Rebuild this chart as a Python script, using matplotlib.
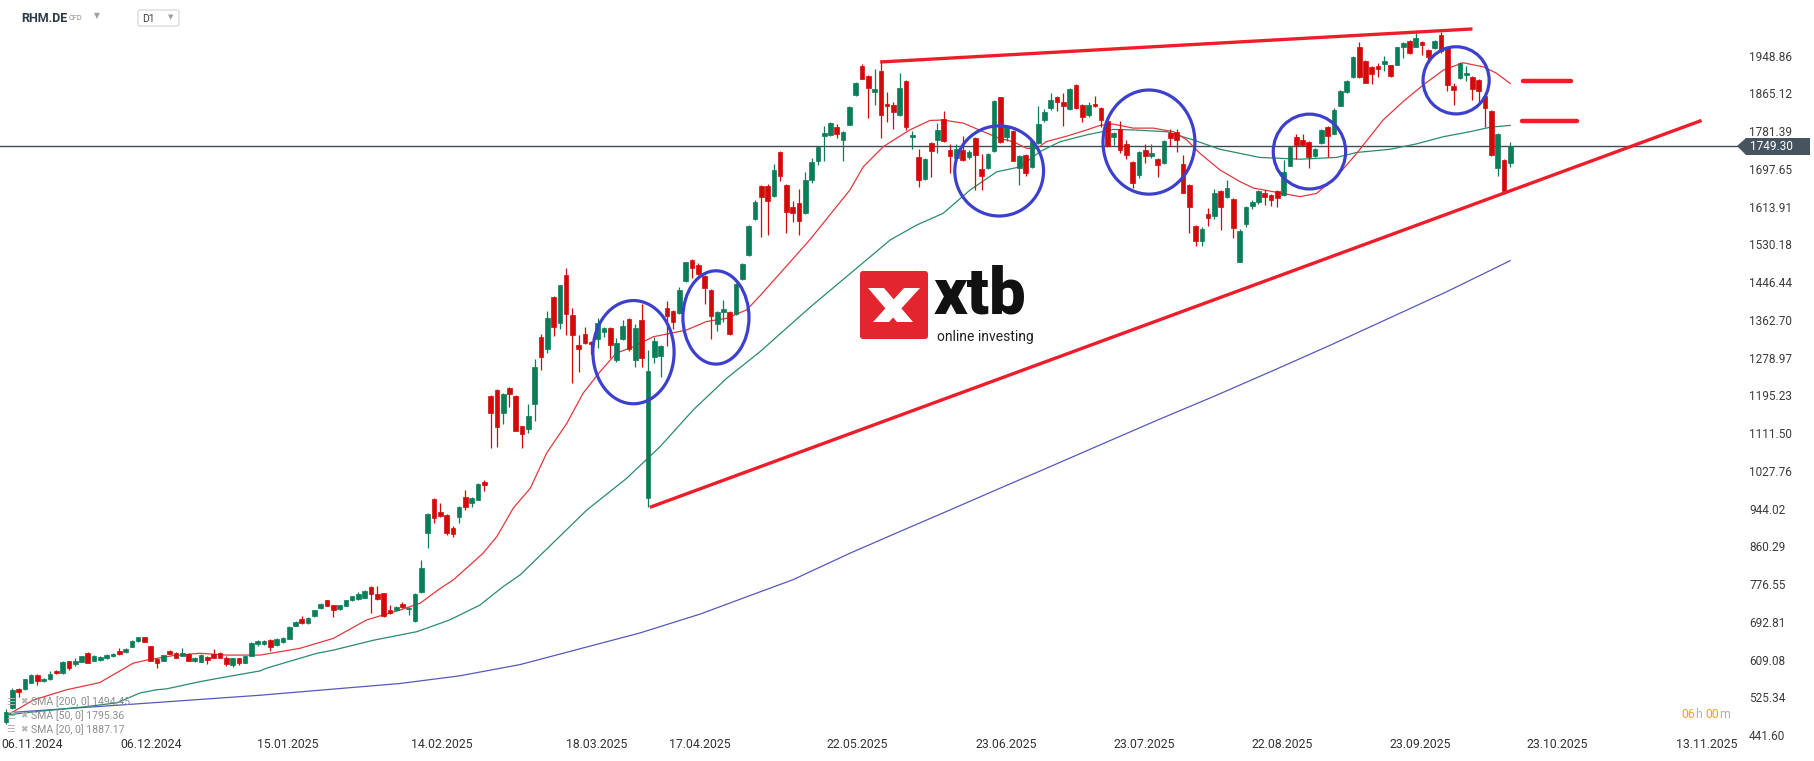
import numpy as np
import matplotlib.pyplot as plt
from matplotlib.patches import Ellipse, Polygon, FancyBboxPatch

plt.rcParams['font.family'] = ['Roboto', 'DejaVu Sans']

# ---- daily candles RHM.DE ----
open_ = [
    470, 501, 544, 544, 558, 574, 561, 565, 584, 579,
    606, 599, 604, 624, 607, 609, 613, 616, 628, 625,
    638, 650, 659, 639, 610, 607, 628, 624, 618, 621,
    606, 604, 615, 621, 624, 613, 597, 612, 602, 618,
    644, 644, 653, 642, 648, 655, 684, 699, 690, 706,
    724, 741, 730, 721, 729, 741, 743, 746, 771, 755,
    756, 719, 719, 733, 721, 695, 759,
    890, 965, 936, 930, 901, 926, 970, 957, 964, 1003,
    1194, 1207, 1155, 1212, 1194, 1127, 1121, 1175, 1325, 1299,
    1413, 1356, 1462, 1373, 1306, 1331, 1313, 1320, 1336, 1345,
    1274, 1321, 1365, 1274, 1362, 968, 1281, 1283, 1388, 1382,
    1377, 1449, 1495, 1485, 1460, 1429, 1353, 1381, 1380, 1376,
    1454, 1506, 1587, 1660, 1660, 1638, 1735, 1662, 1613, 1622,
    1600, 1674, 1716, 1771, 1773, 1790, 1762, 1796, 1861, 1926,
    1904, 1868, 1915, 1842, 1839, 1818, 1893, 1768, 1723, 1675,
    1754, 1762, 1808, 1739, 1722, 1739, 1725, 1766, 1698, 1700,
    1738, 1856, 1768, 1782, 1700, 1728, 1702, 1754, 1806, 1832,
    1858, 1846, 1830, 1884, 1839, 1816, 1842, 1833, 1804, 1768,
    1785, 1753, 1713, 1685, 1739, 1726, 1720, 1711, 1778, 1779,
    1708, 1662, 1571, 1538, 1598, 1592, 1649, 1636, 1631, 1492,
    1575, 1616, 1623, 1644, 1640, 1649, 1640, 1705, 1768, 1762,
    1757, 1726, 1754, 1790, 1776, 1838, 1869, 1901, 1968, 1936,
    1923, 1926, 1931, 1927, 1929, 1969, 1981, 1969, 1979, 1961,
    1965, 1995, 1967, 1881, 1899, 1905, 1901, 1895, 1859, 1826,
    1700, 1717, 1711,
]
high = [
    500, 545, 546, 567, 578, 576, 569, 584, 586, 606,
    607, 612, 618, 625, 619, 616, 621, 623, 635, 634,
    652, 660, 660, 640, 612, 620, 631, 625, 635, 623,
    615, 621, 616, 633, 625, 617, 613, 613, 618, 648,
    652, 652, 654, 656, 660, 683, 695, 705, 703, 719,
    734, 742, 731, 731, 742, 750, 760, 763, 772, 772,
    757, 730, 728, 736, 726, 756, 830,
    934, 967, 956, 931, 905, 949, 985, 969, 1000, 1008,
    1196, 1209, 1200, 1213, 1195, 1128, 1177, 1275, 1331, 1382,
    1415, 1441, 1478, 1388, 1328, 1346, 1315, 1366, 1347, 1347,
    1322, 1362, 1366, 1353, 1398, 1296, 1324, 1306, 1405, 1384,
    1435, 1492, 1497, 1489, 1462, 1431, 1382, 1407, 1382, 1444,
    1489, 1572, 1628, 1662, 1665, 1708, 1737, 1664, 1627, 1652,
    1691, 1721, 1749, 1793, 1801, 1797, 1782, 1836, 1890, 1930,
    1906, 1919, 1939, 1868, 1845, 1910, 1895, 1781, 1741, 1722,
    1757, 1799, 1825, 1752, 1752, 1770, 1740, 1768, 1731, 1733,
    1850, 1858, 1795, 1784, 1728, 1731, 1761, 1837, 1830, 1866,
    1860, 1866, 1877, 1885, 1841, 1845, 1859, 1835, 1806, 1780,
    1804, 1762, 1715, 1737, 1753, 1753, 1722, 1761, 1787, 1785,
    1728, 1664, 1573, 1569, 1610, 1652, 1651, 1673, 1633, 1564,
    1615, 1629, 1651, 1650, 1642, 1651, 1717, 1749, 1776, 1776,
    1759, 1744, 1786, 1792, 1833, 1872, 1895, 1948, 1978, 1938,
    1925, 1932, 1948, 1929, 1969, 1978, 1983, 1998, 1981, 1963,
    1983, 2001, 1969, 1889, 1935, 1926, 1903, 1897, 1861, 1828,
    1777, 1719, 1757,
]
low = [
    466, 499, 526, 542, 556, 553, 559, 563, 577, 578,
    586, 594, 603, 601, 605, 607, 611, 615, 620, 624,
    637, 647, 648, 606, 591, 606, 621, 612, 617, 606,
    604, 603, 599, 612, 612, 595, 593, 596, 601, 617,
    640, 642, 629, 640, 646, 654, 683, 688, 688, 703,
    722, 727, 703, 719, 727, 740, 742, 745, 713, 741,
    704, 710, 717, 724, 708, 693, 757,
    857, 913, 926, 886, 881, 912, 940, 948, 962, 982,
    1079, 1081, 1132, 1170, 1115, 1079, 1111, 1139, 1251, 1290,
    1327, 1342, 1328, 1223, 1248, 1308, 1287, 1300, 1325, 1277,
    1270, 1318, 1294, 1259, 1259, 948, 1266, 1237, 1305, 1342,
    1375, 1447, 1455, 1463, 1398, 1321, 1338, 1359, 1330, 1374,
    1452, 1504, 1585, 1547, 1551, 1636, 1671, 1556, 1580, 1551,
    1598, 1666, 1706, 1714, 1771, 1765, 1714, 1794, 1859, 1896,
    1810, 1839, 1765, 1801, 1787, 1815, 1784, 1742, 1658, 1673,
    1680, 1732, 1758, 1688, 1720, 1715, 1720, 1651, 1650, 1698,
    1736, 1756, 1760, 1714, 1662, 1682, 1700, 1752, 1802, 1828,
    1825, 1793, 1828, 1830, 1802, 1813, 1834, 1791, 1746, 1750,
    1732, 1719, 1656, 1677, 1710, 1722, 1680, 1709, 1748, 1736,
    1643, 1555, 1527, 1527, 1571, 1586, 1562, 1634, 1544, 1490,
    1569, 1609, 1620, 1618, 1615, 1612, 1638, 1703, 1719, 1748,
    1700, 1724, 1752, 1723, 1774, 1836, 1867, 1899, 1899, 1887,
    1885, 1902, 1915, 1902, 1927, 1943, 1953, 1967, 1951, 1932,
    1963, 1955, 1870, 1840, 1897, 1893, 1850, 1847, 1791, 1727,
    1682, 1647, 1702,
]
close = [
    493, 541, 538, 566, 575, 562, 567, 577, 579, 604,
    590, 607, 616, 602, 617, 614, 619, 621, 622, 633,
    650, 659, 649, 607, 602, 619, 622, 613, 624, 607,
    613, 620, 608, 613, 613, 599, 612, 602, 616, 646,
    650, 650, 638, 655, 657, 682, 693, 690, 701, 718,
    733, 729, 719, 730, 741, 749, 755, 762, 755, 743,
    706, 712, 726, 726, 724, 755, 812,
    932, 923, 928, 890, 888, 948, 948, 968, 999, 996,
    1155, 1126, 1198, 1199, 1117, 1110, 1149, 1257, 1281, 1367,
    1347, 1439, 1376, 1329, 1297, 1311, 1308, 1355, 1345, 1306,
    1311, 1349, 1298, 1345, 1277, 1249, 1316, 1305, 1372, 1358,
    1429, 1490, 1478, 1465, 1433, 1372, 1380, 1387, 1332, 1442,
    1487, 1570, 1625, 1636, 1627, 1695, 1682, 1603, 1600, 1583,
    1673, 1713, 1747, 1777, 1799, 1774, 1780, 1834, 1888, 1898,
    1878, 1875, 1818, 1836, 1824, 1877, 1791, 1772, 1674, 1720,
    1738, 1784, 1760, 1726, 1742, 1717, 1735, 1728, 1682, 1731,
    1848, 1758, 1793, 1716, 1726, 1689, 1759, 1797, 1824, 1850,
    1847, 1837, 1875, 1832, 1813, 1839, 1836, 1807, 1748, 1777,
    1739, 1729, 1667, 1735, 1726, 1733, 1707, 1759, 1765, 1762,
    1645, 1614, 1538, 1564, 1589, 1644, 1612, 1655, 1567, 1560,
    1613, 1623, 1649, 1636, 1629, 1632, 1691, 1747, 1751, 1750,
    1725, 1742, 1784, 1771, 1828, 1870, 1893, 1946, 1901, 1889,
    1907, 1920, 1937, 1904, 1967, 1976, 1955, 1987, 1973, 1945,
    1981, 1958, 1884, 1873, 1933, 1910, 1875, 1870, 1833, 1729,
    1775, 1649, 1749.30,
]

# moving averages (bar index, price), read at sample points
sma20_x = [0, 4.3, 9.6, 14.9, 20.2, 22.4, 26.6, 30.8, 35.1, 40.4, 46.7, 52, 57.3, 62.6,
           65.8, 69, 71.1, 75.8, 78, 80.6, 83.3, 85.9, 89.1, 91.7, 94.4, 97, 99.7, 102.8,
           106, 108.1, 111.3, 114.5, 117.7, 119.8, 127.7, 134.1, 136.2, 139.4, 143.6,
           146.8, 148.9, 152.1, 155.3, 157.9, 160, 162.2, 163.8, 165.3, 168.5, 171.7,
           173.8, 175.9, 179.1, 182.3, 185.5, 187.6, 189.7, 192.9, 196.1, 198.2, 202.9,
           205.6, 208.2, 211.4, 214.6, 218.8, 222, 225.2, 228.4, 231.5, 234.7, 236.8, 239]
sma20_y = [484, 519, 542, 558, 601, 608, 618, 623, 619, 619, 634, 656, 697, 719, 734, 767,
           786, 845, 882, 945, 989, 1067, 1133, 1200, 1248, 1289, 1303, 1325, 1334, 1340,
           1359, 1366, 1385, 1416, 1540, 1651, 1702, 1747, 1784, 1805, 1806, 1799, 1780,
           1765, 1758, 1743, 1743, 1758, 1770, 1784, 1794, 1797, 1788, 1788, 1780, 1762,
           1732, 1695, 1669, 1655, 1643, 1636, 1643, 1680, 1732, 1806, 1847, 1884, 1917,
           1933, 1924, 1910, 1887]
sma50_x = [0, 4.3, 12.3, 17.6, 21.3, 23.9, 25.5, 30.8, 33.5, 40.4, 41.4, 49.4, 52, 58.4,
           65.3, 70.5, 75.3, 79, 81.7, 92.3, 98.6, 103.9, 109.2, 114.5, 119.8, 127.7,
           134.1, 140.5, 144.7, 148.9, 153.2, 157.4, 161.1, 164.3, 167.5, 171.7, 175.9,
           179.1, 184.4, 188.6, 192.9, 199.2, 205.6, 211.4, 214.6, 219.9, 224.1, 228.4,
           232.6, 235.8, 239]
sma50_y = [486, 493, 504, 513, 535, 542, 544, 560, 567, 584, 590, 623, 630, 652, 671, 697,
           730, 771, 797, 941, 1011, 1081, 1163, 1233, 1292, 1390, 1465, 1540, 1573, 1599,
           1651, 1691, 1702, 1736, 1758, 1773, 1785, 1784, 1780, 1762, 1741, 1723, 1719,
           1723, 1734, 1741, 1753, 1769, 1780, 1790, 1794]
sma200_x = [0, 20, 40.4, 62.6, 72.1, 81.7, 91.2, 100.7, 110.3, 118.2, 125, 134.1, 142, 150,
            157.9, 165.9, 173.8, 182.9, 192.1, 201.3, 210.5, 219.7, 228.9, 239]
sma200_y = [491, 510, 530, 556, 573, 598, 633, 668, 710, 751, 786, 845, 893, 941, 989, 1037,
            1085, 1140, 1194, 1250, 1307, 1366, 1425, 1494]

legend_rows = ["SMA [200, 0] 1494.45", "SMA [50, 0] 1795.36", "SMA [20, 0] 1887.17"]
last_price = 1749.30

price_labels = ["441.60", "525.34", "609.08", "692.81", "776.55", "860.29", "944.02",
                "1027.76", "1111.50", "1195.23", "1278.97", "1362.70", "1446.44",
                "1530.18", "1613.91", "1697.65", "1781.39", "1865.12", "1948.86"]
date_labels = ["06.11.2024", "06.12.2024", "15.01.2025", "14.02.2025", "18.03.2025",
               "17.04.2025", "22.05.2025", "23.06.2025", "23.07.2025", "22.08.2025",
               "23.09.2025", "23.10.2025", "13.11.2025"]
date_pos = [4.2, 23.0, 44.7, 69.3, 93.8, 110.3, 135.3, 158.9, 180.9, 202.8, 224.7,
            246.4, 270.3]

# drawn annotations (bar index, price)
support_line = ([102.3, 269.4], [946.8, 1805])
resist_line = ([138.9, 233.0], [1934.7, 2008])
level_marks = [([241.1, 248.6], 1892), ([240.9, 249.6], 1804)]
circles = [(99.7, 1291, 12.9, 229), (112.8, 1368, 10.5, 207), (157.8, 1693, 14.1, 200),
           (181.6, 1757, 14.6, 231), (207.1, 1736, 11.5, 166), (230.4, 1894, 10.5, 149)]

GREEN = "#0a7e58"
RED = "#d20a0a"
W, H = 1815, 761

fig = plt.figure(figsize=(W / 100, H / 100), dpi=100)
ax = fig.add_axes([0, 24 / H, 1745 / W, 1 - 24 / H])
ax.set_xlim(-0.95, 276.3)
ax.set_ylim(437.3, 2072.2)

o = np.array(open_, float)
c = np.array(close, float)
x = np.arange(len(c))
cols = np.where(c >= o, GREEN, RED)

ax.axhline(last_price, color="#3e4c59", lw=1.0, zorder=2)
ax.plot(sma200_x, sma200_y, color="#5659b9", lw=0.9, zorder=2)
ax.plot(sma50_x, sma50_y, color="#2a8c68", lw=0.9, zorder=2)
ax.plot(sma20_x, sma20_y, color="#e2383d", lw=0.9, zorder=2)

ax.vlines(x, low, high, colors=cols, lw=0.9, zorder=3)
ax.bar(x, np.abs(c - o), bottom=np.minimum(o, c), width=0.74, color=cols,
       edgecolor=cols, lw=0.5, zorder=4)

ax.plot(*support_line, color="#ee1d2a", lw=2.4, zorder=5, solid_capstyle="butt")
ax.plot(*resist_line, color="#ee1d2a", lw=2.4, zorder=5, solid_capstyle="butt")
for xs, lvl in level_marks:
    ax.plot(xs, [lvl, lvl], color="#ee1d2a", lw=3.2, zorder=5, solid_capstyle="round")
for cx, cy, w, h in circles:
    ax.add_patch(Ellipse((cx, cy), w, h, fill=False, ec="#3d40cc", lw=2.3, zorder=6))

ax.yaxis.tick_right()
ax.set_yticks([float(v) for v in price_labels])
ax.set_yticklabels(price_labels)
ax.set_xticks(date_pos)
ax.set_xticklabels(date_labels)
ax.tick_params(axis="y", length=0, pad=3, labelsize=8.5, labelcolor="#3b3b3b")
ax.tick_params(axis="x", length=0, pad=0.5, labelsize=8.8, labelcolor="#333333")
for s in ax.spines.values():
    s.set_visible(False)

# ---- overlay in pixel coordinates for the platform furniture ----
ov = fig.add_axes([0, 0, 1, 1], zorder=5)
ov.set_xlim(0, W)
ov.set_ylim(H, 0)
ov.axis("off")

ov.text(21, 18, "RHM.DE", fontsize=9, fontweight="bold", color="#2d3b48", va="center")
ov.text(69, 18.5, "CFD", fontsize=5.3, color="#8b8b8b", va="center")
ov.text(97, 16, "\u25bc", fontsize=5.5, color="#a0a0a0", va="center", ha="center",
        family="DejaVu Sans")
ov.add_patch(FancyBboxPatch((138, 10), 41, 16, boxstyle="round,pad=0,rounding_size=2",
                            fc="white", ec="#d3d3d3", lw=0.8))
ov.text(142, 18.5, "D1", fontsize=7.5, color="#444444", va="center")
ov.text(171, 17.5, "\u25bc", fontsize=5, color="#a0a0a0", va="center", ha="center",
        family="DejaVu Sans")

# last price tag
ov.add_patch(Polygon([(1737, 146), (1746, 138), (1810, 138), (1810, 155), (1746, 155)],
                     closed=True, fc="#46545f", ec="none"))
ov.text(1750, 146.8, f"{last_price:.2f}", fontsize=8.5, color="white", va="center")

# indicator legend
for i, row in enumerate(legend_rows):
    yy = 702 + i * 13.7
    ov.text(6, yy, "\u2630", fontsize=7, color="#b5b5b5", va="center", family="DejaVu Sans")
    ov.text(20, yy, "\u2716", fontsize=6.5, color="#b5b5b5", va="center", family="DejaVu Sans")
    ov.text(31, yy, row, fontsize=7.6, color="#8e8e8e", va="center")

# session timer
ov.text(1681, 714, "06", fontsize=8.8, color="#f5a01a", va="center")
ov.text(1695, 714, "h", fontsize=8.8, color="#b0b0b0", va="center")
ov.text(1705, 714, "00", fontsize=8.8, color="#f5a01a", va="center")
ov.text(1719, 714, "m", fontsize=8.8, color="#b0b0b0", va="center")

# xtb watermark
ov.add_patch(FancyBboxPatch((860, 271), 68, 68, boxstyle="round,pad=0,rounding_size=3",
                            fc="#e3252d", ec="none"))
ov.add_patch(Polygon([(868, 288), (884, 288), (913, 322), (897, 322)], fc="white"))
ov.add_patch(Polygon([(873, 322), (889, 322), (920, 288), (904, 288)], fc="white"))
ov.text(934, 313, "xtb", fontsize=47, fontweight="black", color="#111111", va="baseline")
ov.text(937, 330, "online investing", fontsize=10, color="#222222", va="top")

fig.savefig("out.png", dpi=100)
